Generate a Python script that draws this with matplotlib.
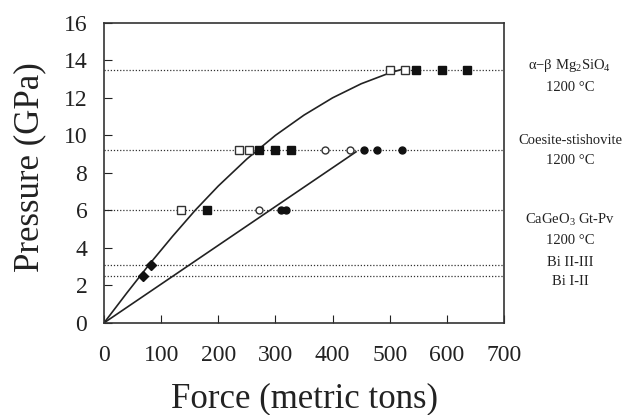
import matplotlib.pyplot as plt

# calibration pressures (GPa) for the horizontal reference lines
levels = [13.5, 9.2, 6.0, 3.1, 2.5]

# Mg2SiO4 alpha-beta
mg_open_f = [500, 527]
mg_fill_f = [546, 591, 636]
mg_p = 13.5

# coesite-stishovite
coe_sq_open_f = [236, 254]
coe_sq_fill_f = [272, 300, 327]
coe_ci_open_f = [386, 431]
coe_ci_fill_f = [455, 478, 522]
coe_p = 9.2

# CaGeO3 garnet-perovskite
cag_sq_open_f = [135]
cag_sq_fill_f = [181]
cag_ci_open_f = [272]
cag_ci_fill_f = [309, 318]
cag_p = 6.0

# Bi transitions
bi_f = [69, 82]
bi_p = [2.5, 3.1]

# calibration curves
curve_f = [0, 40, 80, 120, 160, 200, 250, 300, 350, 400, 450, 500, 525]
curve_p = [0, 1.6, 3.15, 4.62, 6.02, 7.3, 8.74, 10.0, 11.08, 12.0, 12.75, 13.33, 13.55]
line_f = [0, 441]
line_p = [0, 9.12]

labels = [(13.5, 0.3, "α\u2212β Mg$_2$SiO$_4$\n1200 °C"),
          (9.2, 0.0, "Coesite-stishovite\n1200 °C"),
          (6.0, 1.0, "CaGeO$_3$ Gt-Pv\n1200 °C")]

plt.rcParams['font.family'] = 'Liberation Serif'
plt.rcParams['mathtext.fontset'] = 'custom'
plt.rcParams['mathtext.rm'] = 'Liberation Serif'

fig = plt.figure(figsize=(6.23, 4.15), dpi=100)
ax = fig.add_axes([0.167, 0.222, 0.642, 0.723])

for p in levels:
    ax.axhline(p, color='#333333', linestyle=(0, (1, 1.5)), linewidth=0.9, zorder=1)

ax.plot(curve_f, curve_p, color='#222222', linewidth=1.2, zorder=2)
ax.plot(line_f, line_p, color='#222222', linewidth=1.2, zorder=2)

sq = dict(marker='s', markersize=5.5, linestyle='none', zorder=3)
ci = dict(marker='o', markersize=5, linestyle='none', zorder=3)
dk = '#111111'

ax.plot(mg_open_f, [mg_p] * len(mg_open_f), mfc='white', mec='#333333', mew=1, **sq)
ax.plot(mg_fill_f, [mg_p] * len(mg_fill_f), color=dk, **sq)
ax.plot(coe_sq_open_f, [coe_p] * len(coe_sq_open_f), mfc='white', mec='#333333', mew=1, **sq)
ax.plot(coe_sq_fill_f, [coe_p] * len(coe_sq_fill_f), color=dk, **sq)
ax.plot(coe_ci_open_f, [coe_p] * len(coe_ci_open_f), mfc='white', mec='#333333', mew=1, **ci)
ax.plot(coe_ci_fill_f, [coe_p] * len(coe_ci_fill_f), color=dk, **ci)
ax.plot(cag_sq_open_f, [cag_p] * len(cag_sq_open_f), mfc='white', mec='#333333', mew=1, **sq)
ax.plot(cag_sq_fill_f, [cag_p] * len(cag_sq_fill_f), color=dk, **sq)
ax.plot(cag_ci_open_f, [cag_p] * len(cag_ci_open_f), mfc='white', mec='#333333', mew=1, **ci)
ax.plot(cag_ci_fill_f, [cag_p] * len(cag_ci_fill_f), color=dk, **ci)
ax.plot(bi_f, bi_p, marker='D', markersize=5, color=dk, linestyle='none', zorder=3)

ax.set_xlim(0, 700)
ax.set_ylim(0, 16)
ax.set_xticks(range(0, 701, 100))
ax.set_yticks(range(0, 17, 2))
ax.tick_params(direction='in', length=6, width=0.8, labelsize=17, colors='#222222')
ax.tick_params(axis='x', pad=16)
ax.tick_params(axis='y', pad=12)
for s in ax.spines.values():
    s.set_linewidth(1.2)
    s.set_color('#333333')

ax.set_xlabel('Force (metric tons)', fontsize=25, labelpad=12, color='#222222')
ax.set_ylabel('Pressure (GPa)', fontsize=25, color='#222222')
ax.yaxis.set_label_coords(-0.145, 0.52)

tx = 1.165
for p, off, txt in labels:
    ax.text(tx, p - off, txt, transform=ax.get_yaxis_transform(), ha='center',
            va='center', fontsize=10.5, linespacing=1.65, color='#222222')
ax.text(tx, 3.2, 'Bi II-III', transform=ax.get_yaxis_transform(), ha='center',
        va='center', fontsize=10.5, color='#222222')
ax.text(tx, 2.2, 'Bi I-II', transform=ax.get_yaxis_transform(), ha='center',
        va='center', fontsize=10.5, color='#222222')

fig.savefig('out.png', dpi=100)
